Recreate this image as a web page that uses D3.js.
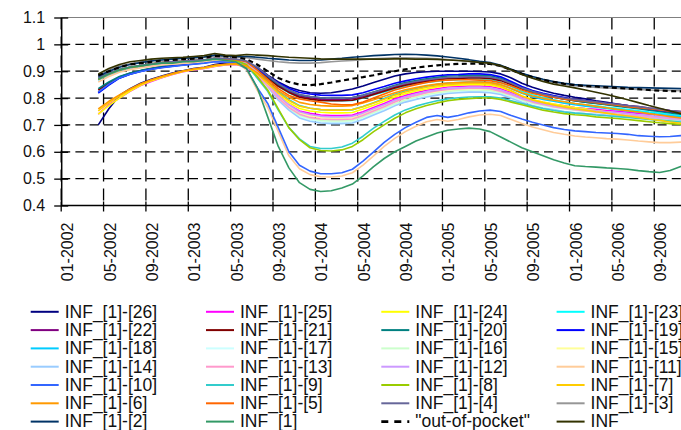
<!DOCTYPE html>
<html>
<head>
<meta charset="utf-8">
<script src="https://cdn.jsdelivr.net/npm/d3@7"></script>
<style>
  body { margin: 0; background: #fff; overflow: hidden; }
  svg { display: block; }
  text { font-family: "Liberation Sans", Arial, sans-serif; fill: #111; }
</style>
</head>
<body>
<div id="grafiek"></div>
<script>
// maanden van de categorie-as (01-2002 t/m 12-2006)
const maanden = [
  "01-2002","02-2002","03-2002","04-2002","05-2002","06-2002","07-2002","08-2002","09-2002","10-2002","11-2002","12-2002",
  "01-2003","02-2003","03-2003","04-2003","05-2003","06-2003","07-2003","08-2003","09-2003","10-2003","11-2003","12-2003",
  "01-2004","02-2004","03-2004","04-2004","05-2004","06-2004","07-2004","08-2004","09-2004","10-2004","11-2004","12-2004",
  "01-2005","02-2005","03-2005","04-2005","05-2005","06-2005","07-2005","08-2005","09-2005","10-2005","11-2005","12-2005",
  "01-2006","02-2006","03-2006","04-2006","05-2006","06-2006","07-2006","08-2006","09-2006","10-2006","11-2006","12-2006"
];
const eersteMaand = "04-2002"; // reeksen beginnen hier
const asLabels = ["01-2002","05-2002","09-2002","01-2003","05-2003","09-2003","01-2004","05-2004",
  "09-2004","01-2005","05-2005","09-2005","01-2006","05-2006","09-2006"];
const yTicks = [0.4, 0.5, 0.6, 0.7, 0.8, 0.9, 1.0, 1.1];

// reeksen, per maand vanaf 04-2002
const inf26 = [0.70,0.76,0.81,0.835,0.855,0.87,0.882,0.893,0.902,0.91,0.915,0.925,0.93,0.932, 0.93,0.915,0.885,0.86,0.84,0.828,0.82,0.818,0.82,0.826,0.834, 0.845,0.858,0.87,0.882,0.89,0.895,0.898,0.9,0.9,0.9,0.9,0.899,0.897, 0.89,0.875,0.855,0.84,0.828,0.818,0.81,0.803, 0.797,0.79,0.784,0.778,0.772,0.766,0.76,0.755,0.75,0.746,0.742];
const inf25 = [0.74,0.775,0.80,0.825,0.847,0.862,0.876,0.888,0.898,0.905,0.91,0.918,0.923,0.925, 0.915,0.885,0.845,0.805,0.775,0.752,0.743,0.737,0.735,0.735,0.737, 0.749,0.765,0.78,0.797,0.81,0.82,0.829,0.835,0.841,0.843,0.845,0.845,0.843, 0.835,0.821,0.805,0.793,0.784,0.777,0.771,0.765, 0.761,0.758,0.754,0.751,0.747,0.743,0.74,0.736,0.733,0.729,0.725];
const inf24 = [0.74,0.772,0.80,0.826,0.848,0.864,0.877,0.889,0.899,0.906,0.911,0.919,0.924,0.926, 0.917,0.888,0.85,0.812,0.783,0.761,0.752,0.747,0.745,0.745,0.746, 0.759,0.773,0.788,0.804,0.816,0.826,0.834,0.841,0.846,0.848,0.85,0.85,0.848, 0.84,0.825,0.808,0.795,0.785,0.778,0.771,0.765, 0.76,0.754,0.749,0.743,0.738,0.733,0.727,0.722,0.716,0.711,0.705];
const inf23 = [0.82,0.85,0.875,0.89,0.90,0.908,0.915,0.92,0.924,0.928,0.932,0.938,0.937,0.935, 0.928,0.905,0.874,0.844,0.82,0.803,0.796,0.791,0.79,0.79,0.791, 0.80,0.812,0.823,0.835,0.844,0.852,0.858,0.863,0.867,0.868,0.87,0.87,0.868, 0.859,0.843,0.825,0.812,0.802,0.794,0.786,0.78, 0.775,0.771,0.766,0.762,0.757,0.753,0.748,0.744,0.739,0.735,0.73];
const inf22 = [0.822,0.852,0.876,0.89,0.901,0.909,0.916,0.921,0.925,0.929,0.933,0.939,0.938,0.936, 0.929,0.906,0.877,0.847,0.825,0.808,0.801,0.796,0.795,0.795,0.797, 0.806,0.817,0.829,0.841,0.851,0.859,0.866,0.871,0.875,0.876,0.878,0.878,0.876, 0.868,0.853,0.837,0.824,0.815,0.807,0.801,0.795, 0.79,0.786,0.781,0.777,0.772,0.768,0.763,0.759,0.754,0.75,0.745];
const inf21 = [0.83,0.856,0.878,0.892,0.902,0.91,0.917,0.922,0.926,0.93,0.934,0.94,0.939,0.937, 0.93,0.906,0.875,0.844,0.821,0.803,0.796,0.791,0.79,0.79,0.792, 0.801,0.813,0.825,0.838,0.848,0.855,0.862,0.867,0.872,0.873,0.875,0.875,0.873, 0.865,0.85,0.833,0.82,0.81,0.803,0.796,0.79, 0.785,0.781,0.776,0.772,0.767,0.763,0.758,0.754,0.749,0.745,0.74];
const inf20 = [0.835,0.86,0.88,0.893,0.903,0.911,0.918,0.923,0.927,0.931,0.935,0.941,0.94,0.938, 0.931,0.909,0.88,0.851,0.829,0.812,0.806,0.801,0.80,0.80,0.802, 0.811,0.823,0.835,0.848,0.858,0.865,0.872,0.877,0.882,0.883,0.885,0.885,0.883, 0.874,0.857,0.838,0.823,0.813,0.804,0.797,0.79, 0.785,0.78,0.775,0.77,0.765,0.76,0.755,0.75,0.745,0.74,0.735];
const inf19 = [0.818,0.848,0.874,0.889,0.899,0.907,0.914,0.919,0.923,0.927,0.931,0.937,0.936,0.934, 0.928,0.908,0.882,0.856,0.836,0.821,0.815,0.811,0.81,0.81,0.812, 0.82,0.832,0.843,0.855,0.864,0.872,0.878,0.883,0.887,0.888,0.89,0.89,0.888, 0.879,0.862,0.843,0.828,0.818,0.809,0.802,0.795, 0.79,0.785,0.78,0.775,0.77,0.765,0.76,0.755,0.75,0.745,0.74];
const inf18 = [0.868,0.888,0.903,0.913,0.919,0.926,0.931,0.934,0.936,0.939,0.941,0.947,0.945,0.942, 0.933,0.903,0.863,0.824,0.794,0.772,0.762,0.757,0.755,0.755,0.757, 0.769,0.783,0.798,0.814,0.826,0.836,0.844,0.851,0.856,0.858,0.86,0.86,0.858, 0.85,0.835,0.818,0.805,0.795,0.788,0.781,0.775, 0.77,0.766,0.761,0.757,0.752,0.748,0.743,0.739,0.734,0.73,0.725];
const inf17 = [0.87,0.89,0.905,0.915,0.92,0.927,0.932,0.935,0.937,0.94,0.942,0.948,0.946,0.943, 0.931,0.894,0.845,0.796,0.759,0.731,0.719,0.712,0.71,0.71,0.712, 0.725,0.741,0.757,0.774,0.788,0.799,0.808,0.815,0.82,0.823,0.825,0.825,0.823, 0.817,0.804,0.79,0.78,0.772,0.765,0.76,0.755, 0.751,0.748,0.744,0.741,0.737,0.733,0.73,0.726,0.723,0.719,0.715];
const inf16 = [0.872,0.891,0.906,0.915,0.921,0.927,0.932,0.935,0.938,0.94,0.943,0.948,0.946,0.944, 0.933,0.896,0.848,0.80,0.763,0.736,0.724,0.717,0.715,0.715,0.717, 0.73,0.746,0.762,0.779,0.793,0.804,0.813,0.82,0.825,0.828,0.83,0.83,0.828, 0.821,0.808,0.793,0.781,0.773,0.766,0.76,0.755, 0.752,0.749,0.746,0.742,0.739,0.736,0.733,0.73,0.727,0.723,0.72];
const inf15 = [0.87,0.889,0.904,0.914,0.92,0.926,0.931,0.934,0.937,0.939,0.941,0.947,0.945,0.942, 0.931,0.896,0.851,0.805,0.771,0.745,0.734,0.727,0.725,0.725,0.727, 0.739,0.755,0.77,0.787,0.80,0.81,0.819,0.825,0.831,0.833,0.835,0.835,0.833, 0.826,0.813,0.798,0.786,0.778,0.771,0.765,0.76, 0.755,0.751,0.746,0.742,0.737,0.733,0.728,0.724,0.719,0.715,0.71];
const inf14 = [0.868,0.888,0.903,0.913,0.919,0.925,0.93,0.933,0.936,0.938,0.94,0.946,0.944,0.941, 0.929,0.891,0.842,0.792,0.755,0.726,0.714,0.707,0.705,0.705,0.707, 0.72,0.737,0.753,0.771,0.785,0.795,0.804,0.811,0.817,0.82,0.822,0.822,0.82, 0.813,0.799,0.784,0.772,0.763,0.757,0.75,0.745, 0.742,0.74,0.737,0.734,0.731,0.729,0.726,0.723,0.721,0.718,0.715];
const inf13 = [0.87,0.885,0.9,0.91,0.915,0.92,0.925,0.928,0.93,0.933,0.935,0.94,0.938,0.935, 0.925,0.89,0.845,0.80,0.765,0.74,0.728,0.722,0.72,0.72,0.722, 0.735,0.752,0.768,0.785,0.80,0.81,0.82,0.827,0.832,0.835,0.837,0.837,0.835, 0.825,0.812,0.797,0.785,0.776,0.768,0.762,0.757, 0.752,0.748,0.744,0.74,0.736,0.733,0.73,0.727,0.724,0.721,0.718];
const inf12 = [0.871,0.89,0.905,0.915,0.92,0.926,0.931,0.934,0.937,0.94,0.942,0.948,0.946,0.943, 0.932,0.898,0.854,0.809,0.775,0.749,0.739,0.732,0.73,0.73,0.732, 0.744,0.76,0.775,0.792,0.805,0.815,0.824,0.83,0.836,0.838,0.84,0.84,0.838, 0.83,0.816,0.80,0.788,0.779,0.772,0.766,0.76, 0.756,0.753,0.749,0.746,0.742,0.738,0.735,0.731,0.728,0.724,0.72];
const inf11 = [0.86,0.88,0.896,0.906,0.912,0.918,0.923,0.926,0.929,0.932,0.934,0.94,0.938,0.933, 0.905,0.83,0.765,0.675,0.585,0.537,0.515,0.507,0.506,0.51,0.522, 0.55,0.585,0.62,0.65,0.675,0.695,0.712,0.72,0.714,0.72,0.73,0.737,0.74, 0.735,0.72,0.705,0.692,0.682,0.672,0.665,0.659, 0.655,0.652,0.649,0.647,0.644,0.64,0.637,0.634,0.634,0.636,0.637];
const inf10 = [0.822,0.852,0.875,0.889,0.899,0.907,0.913,0.918,0.922,0.926,0.93,0.935,0.934,0.93, 0.91,0.84,0.78,0.69,0.60,0.55,0.528,0.518,0.518,0.522,0.535, 0.565,0.60,0.635,0.665,0.69,0.71,0.728,0.735,0.728,0.735,0.745,0.752,0.755, 0.75,0.735,0.722,0.71,0.70,0.69,0.683,0.678, 0.675,0.672,0.67,0.668,0.665,0.66,0.658,0.656,0.657,0.66,0.66];
const inf9 = [0.868,0.888,0.903,0.913,0.919,0.926,0.93,0.933,0.936,0.939,0.941,0.946,0.944,0.94, 0.922,0.875,0.825,0.755,0.69,0.648,0.62,0.612,0.612,0.618,0.632, 0.658,0.688,0.713,0.737,0.756,0.77,0.781,0.79,0.797,0.801,0.804,0.805,0.805, 0.80,0.79,0.78,0.77,0.761,0.754,0.748,0.744, 0.741,0.737,0.734,0.731,0.728,0.724,0.72,0.717,0.714,0.711,0.709];
const inf8 = [0.87,0.89,0.905,0.915,0.92,0.928,0.932,0.935,0.937,0.94,0.942,0.947,0.945,0.94, 0.925,0.88,0.83,0.76,0.69,0.645,0.615,0.605,0.603,0.607,0.62, 0.645,0.675,0.70,0.725,0.745,0.76,0.772,0.782,0.79,0.795,0.798,0.80,0.80, 0.795,0.785,0.775,0.765,0.755,0.748,0.742,0.738, 0.735,0.73,0.727,0.724,0.72,0.716,0.712,0.708,0.705,0.702,0.70];
const inf7 = [0.752,0.782,0.807,0.831,0.851,0.866,0.879,0.89,0.9,0.907,0.913,0.921,0.925,0.927, 0.918,0.891,0.855,0.819,0.791,0.77,0.762,0.757,0.755,0.755,0.757, 0.768,0.782,0.796,0.811,0.823,0.832,0.84,0.846,0.851,0.853,0.855,0.855,0.853, 0.844,0.827,0.808,0.793,0.783,0.774,0.767,0.76, 0.755,0.749,0.744,0.738,0.733,0.728,0.722,0.717,0.711,0.706,0.70];
const inf6 = [0.76,0.788,0.812,0.834,0.853,0.868,0.88,0.891,0.901,0.908,0.914,0.922,0.926,0.928, 0.92,0.895,0.862,0.828,0.803,0.784,0.776,0.772,0.77,0.77,0.772, 0.782,0.794,0.807,0.82,0.831,0.839,0.847,0.852,0.856,0.858,0.86,0.86,0.858, 0.85,0.836,0.82,0.808,0.799,0.792,0.786,0.78, 0.775,0.769,0.764,0.758,0.753,0.748,0.742,0.737,0.731,0.726,0.72];
const inf5 = [0.87,0.89,0.905,0.915,0.92,0.927,0.932,0.935,0.937,0.94,0.942,0.948,0.946,0.943, 0.935,0.905,0.87,0.835,0.81,0.797,0.79,0.785,0.778,0.775,0.775, 0.785,0.8,0.815,0.83,0.84,0.85,0.858,0.864,0.867,0.868,0.868,0.867,0.865, 0.857,0.845,0.83,0.818,0.81,0.803,0.797,0.792, 0.788,0.783,0.778,0.773,0.768,0.764,0.76,0.756,0.751,0.745,0.74];
const inf4 = [0.875,0.893,0.907,0.916,0.922,0.928,0.933,0.936,0.938,0.941,0.943,0.949,0.947,0.945, 0.938,0.915,0.884,0.854,0.83,0.813,0.806,0.801,0.80,0.80,0.802, 0.81,0.822,0.833,0.845,0.854,0.862,0.868,0.873,0.877,0.878,0.88,0.88,0.878, 0.87,0.855,0.838,0.825,0.815,0.807,0.80,0.795, 0.79,0.786,0.781,0.777,0.772,0.768,0.763,0.759,0.754,0.75,0.745];
const inf3 = [0.885,0.905,0.92,0.928,0.935,0.94,0.944,0.946,0.948,0.95,0.952,0.958,0.955,0.952, 0.95,0.945,0.94,0.935,0.932,0.93,0.93,0.932,0.935,0.938,0.94, 0.943,0.946,0.948,0.95,0.95,0.949,0.948,0.946,0.943,0.94,0.936,0.932,0.928, 0.918,0.903,0.888,0.876,0.866,0.858,0.851,0.846, 0.843,0.84,0.838,0.836,0.834,0.832,0.83,0.829,0.828,0.827,0.826];
const inf2 = [0.88,0.90,0.915,0.925,0.932,0.938,0.942,0.945,0.948,0.95,0.953,0.96,0.957,0.955, 0.955,0.952,0.948,0.945,0.942,0.94,0.94,0.942,0.945,0.948,0.952, 0.955,0.958,0.96,0.962,0.963,0.962,0.96,0.957,0.953,0.948,0.943,0.937,0.932, 0.922,0.907,0.892,0.88,0.87,0.862,0.855,0.85, 0.848,0.846,0.844,0.842,0.84,0.839,0.838,0.837,0.836,0.835,0.834];
const inf1 = [0.87,0.89,0.905,0.915,0.92,0.925,0.93,0.93,0.935,0.935,0.94,0.945,0.94,0.935, 0.91,0.84,0.73,0.62,0.54,0.485,0.46,0.452,0.455,0.465,0.48, 0.51,0.545,0.575,0.60,0.62,0.64,0.655,0.67,0.68,0.685,0.688,0.685,0.675, 0.655,0.635,0.615,0.60,0.585,0.57,0.558,0.548, 0.545,0.543,0.54,0.538,0.535,0.53,0.526,0.523,0.53,0.545,0.555];
const outOfPocket = [0.885,0.90,0.915,0.925,0.93,0.935,0.94,0.942,0.945,0.947,0.95,0.957,0.955,0.952, 0.945,0.925,0.90,0.875,0.86,0.85,0.848,0.852,0.858,0.865,0.872, 0.878,0.885,0.893,0.90,0.907,0.913,0.918,0.922,0.925,0.927,0.928,0.928,0.927, 0.92,0.905,0.89,0.878,0.868,0.86,0.853,0.848, 0.845,0.843,0.84,0.838,0.835,0.833,0.83,0.828,0.826,0.825,0.824];
const inf = [0.89,0.91,0.925,0.935,0.94,0.945,0.948,0.95,0.952,0.955,0.958,0.966,0.96,0.958, 0.962,0.96,0.958,0.955,0.952,0.95,0.948,0.946,0.945,0.945,0.945, 0.945,0.945,0.945,0.946,0.946,0.945,0.945,0.944,0.942,0.94,0.937,0.933,0.93, 0.92,0.905,0.888,0.874,0.862,0.852,0.845,0.838, 0.83,0.822,0.813,0.804,0.794,0.783,0.772,0.762,0.752,0.742,0.732];

const namen = ["INF_[1]-[26]","INF_[1]-[25]","INF_[1]-[24]","INF_[1]-[23]",
  "INF_[1]-[22]","INF_[1]-[21]","INF_[1]-[20]","INF_[1]-[19]",
  "INF_[1]-[18]","INF_[1]-[17]","INF_[1]-[16]","INF_[1]-[15]",
  "INF_[1]-[14]","INF_[1]-[13]","INF_[1]-[12]","INF_[1]-[11]",
  "INF_[1]-[10]","INF_[1]-[9]","INF_[1]-[8]","INF_[1]-[7]",
  "INF_[1]-[6]","INF_[1]-[5]","INF_[1]-[4]","INF_[1]-[3]",
  "INF_[1]-[2]","INF_[1]","\"out-of-pocket\"","INF"];
const kleuren = ["#000080","#ff00ff","#ffff00","#00ffff",
  "#800080","#800000","#008080","#0000ff",
  "#00ccff","#ccffff","#ccffcc","#ffff99",
  "#99ccff","#ff99cc","#cc99ff","#ffcc99",
  "#3366ff","#33cccc","#99cc00","#ffcc00",
  "#ff9900","#ff6600","#666699","#969696",
  "#003366","#339966","#000000","#333300"];
const waarden = [inf26, inf25, inf24, inf23, inf22, inf21, inf20, inf19, inf18, inf17, inf16, inf15,
  inf14, inf13, inf12, inf11, inf10, inf9, inf8, inf7, inf6, inf5, inf4, inf3, inf2, inf1, outOfPocket, inf];

const reeksen = namen.map((naam, k) => ({ naam, kleur: kleuren[k], waarden: waarden[k], stippel: naam.includes("pocket") }));
reeksen.forEach(r => { if (r.waarden.length !== 57) console.error(`reeks ${r.naam} heeft ${r.waarden.length} waarden`); });

const breedte = 681, hoogte = 430;
const links = 61.2, stap = 10.59;

const tekening = d3.select("#grafiek")
  .append("svg")
  .attr("width", breedte)
  .attr("height", hoogte);

const x_as = d3.scaleBand()
  .domain(maanden)
  .range([links, links + maanden.length * stap])
  .padding(0);

const y_as = d3.scaleLinear()
  .domain([0.4, 1.1])
  .range([205.5, 17.5]);

const rechts = x_as.range()[1];
const start = maanden.indexOf(eersteMaand);

// rasterlijnen
tekening.append("g")
  .selectAll("line")
  .data(yTicks.filter(v => v > 0.45 && v < 1.05))
  .join("line")
  .attr("x1", links).attr("x2", rechts)
  .attr("y1", d => y_as(d)).attr("y2", d => y_as(d))
  .attr("stroke", "#000").attr("stroke-width", 1.3)
  .attr("stroke-dasharray", "9,5.2");

tekening.append("g")
  .selectAll("line")
  .data(asLabels)
  .join("line")
  .attr("x1", d => x_as(d)).attr("x2", d => x_as(d))
  .attr("y1", y_as(1.1)).attr("y2", y_as(0.4))
  .attr("stroke", "#000").attr("stroke-width", 1.3)
  .attr("stroke-dasharray", "12,7");

// bovenrand
tekening.append("line")
  .attr("x1", links).attr("x2", rechts)
  .attr("y1", y_as(1.1)).attr("y2", y_as(1.1))
  .attr("stroke", "#808080").attr("stroke-width", 1);

// lijnen
const lijn = d3.line()
  .x((_, i) => x_as(maanden[start + i]) + x_as.bandwidth() / 2)
  .y(d => y_as(d));

tekening.append("g")
  .selectAll("path")
  .data(reeksen)
  .join("path")
  .attr("d", d => lijn(d.waarden))
  .attr("fill", "none")
  .attr("stroke", d => d.kleur)
  .attr("stroke-width", d => d.stippel ? 2.2 : 1.6)
  .attr("stroke-dasharray", d => d.stippel ? "5,3.5" : null)
  .attr("stroke-linejoin", "round");

// y-as
const yAs = tekening.append("g")
  .attr("transform", `translate(${links},0)`)
  .call(d3.axisLeft(y_as).tickValues(yTicks).tickSizeInner(7).tickSizeOuter(0).tickPadding(9)
    .tickFormat(d => String(+d.toFixed(1))));
yAs.select(".domain").attr("stroke", "#000").attr("stroke-width", 1.5);
yAs.selectAll(".tick line").attr("x1", 7).attr("stroke", "#000").attr("stroke-width", 1.3);
yAs.selectAll(".tick text")
  .attr("font-size", 16)
  .attr("font-family", "Liberation Sans, Arial, sans-serif")
  .attr("fill", "#111");

// x-as
tekening.append("line")
  .attr("x1", links).attr("x2", rechts)
  .attr("y1", y_as(0.4)).attr("y2", y_as(0.4))
  .attr("stroke", "#000").attr("stroke-width", 1.5);

tekening.append("g")
  .selectAll("line")
  .data(asLabels)
  .join("line")
  .attr("x1", d => x_as(d)).attr("x2", d => x_as(d))
  .attr("y1", y_as(0.4) - 4).attr("y2", y_as(0.4) + 6)
  .attr("stroke", "#000").attr("stroke-width", 1.3);

tekening.append("g")
  .selectAll("text")
  .data(asLabels)
  .join("text")
  .attr("transform", d => `translate(${x_as(d) + 12},${y_as(0.4) + 17}) rotate(-90)`)
  .attr("text-anchor", "end")
  .attr("font-size", 16)
  .text(d => d);

// legenda
const legenda = tekening.append("g")
  .selectAll("g")
  .data(reeksen)
  .join("g")
  .attr("transform", (_, k) => `translate(${30.7 + (k % 4) * 175.3},${311.8 + Math.floor(k / 4) * 18.3})`);

legenda.append("line")
  .attr("x1", 0).attr("x2", 28)
  .attr("stroke", d => d.kleur)
  .attr("stroke-width", d => d.stippel ? 2.6 : 2)
  .attr("stroke-dasharray", d => d.stippel ? "7,6" : null);

legenda.append("text")
  .attr("x", 34)
  .attr("y", 5.8)
  .attr("font-size", 17.5)
  .text(d => d.naam);
</script>
</body>
</html>
